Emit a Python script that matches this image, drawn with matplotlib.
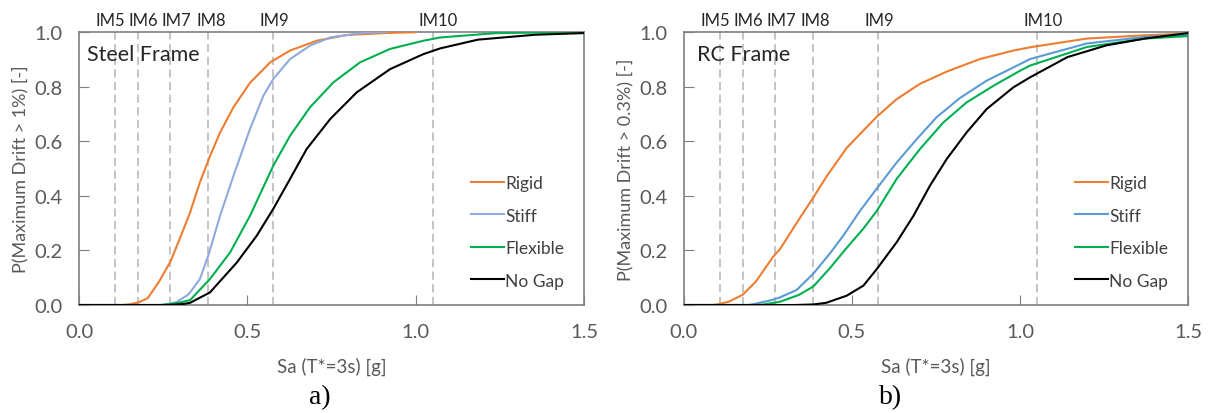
import matplotlib.pyplot as plt

# IM levels (Sa [g]) and where their names sit above the frame
im_names = ['IM5', 'IM6', 'IM7', 'IM8', 'IM9', 'IM10']
im_values = [0.108, 0.176, 0.271, 0.384, 0.576, 1.052]
im_label_pos = [0.093, 0.19, 0.29, 0.392, 0.58, 1.068]

# a) Steel frame, P(Max drift > 1%)
steel_rigid_x = [0.0, 0.13, 0.147, 0.176, 0.204, 0.238, 0.272, 0.30, 0.33, 0.359, 0.389, 0.419,
                 0.459, 0.508, 0.568, 0.627, 0.706, 0.795, 0.924, 0.998]
steel_rigid_y = [0.0, 0.0, 0.002, 0.009, 0.025, 0.086, 0.16, 0.245, 0.339, 0.449, 0.545, 0.632,
                 0.725, 0.814, 0.889, 0.932, 0.968, 0.989, 0.997, 0.999]
steel_stiff_x = [0.0, 0.244, 0.289, 0.323, 0.33, 0.359, 0.384, 0.419, 0.459, 0.508, 0.548, 0.577,
                 0.627, 0.686, 0.746, 0.845, 0.913]
steel_stiff_y = [0.0, 0.0, 0.01, 0.037, 0.046, 0.095, 0.181, 0.327, 0.474, 0.645, 0.767, 0.828,
                 0.901, 0.95, 0.98, 0.997, 1.0]
steel_flex_x = [0.0, 0.244, 0.289, 0.33, 0.389, 0.449, 0.508, 0.577, 0.627, 0.686, 0.756, 0.835,
                0.924, 1.023, 1.073, 1.24, 1.5]
steel_flex_y = [0.0, 0.0, 0.006, 0.018, 0.095, 0.193, 0.327, 0.51, 0.62, 0.724, 0.816, 0.889,
                0.938, 0.968, 0.98, 0.996, 1.0]
steel_nogap_x = [0.0, 0.266, 0.312, 0.33, 0.389, 0.469, 0.528, 0.577, 0.627, 0.676, 0.746, 0.825,
                 0.924, 1.023, 1.073, 1.185, 1.355, 1.5]
steel_nogap_y = [0.0, 0.0, 0.004, 0.008, 0.046, 0.156, 0.254, 0.352, 0.462, 0.571, 0.681, 0.779,
                 0.864, 0.919, 0.94, 0.972, 0.99, 0.996]

# b) RC frame, P(Max drift > 0.3%)
rc_rigid_x = [0.0, 0.085, 0.098, 0.133, 0.174, 0.214, 0.266, 0.286, 0.335, 0.385, 0.425, 0.484,
              0.544, 0.574, 0.633, 0.702, 0.782, 0.881, 0.98, 1.03, 1.199, 1.372, 1.5]
rc_rigid_y = [0.0, 0.0, 0.002, 0.012, 0.037, 0.086, 0.178, 0.205, 0.30, 0.394, 0.472, 0.575,
              0.652, 0.69, 0.754, 0.81, 0.855, 0.901, 0.932, 0.944, 0.976, 0.988, 0.994]
rc_stiff_x = [0.0, 0.19, 0.203, 0.261, 0.286, 0.335, 0.385, 0.435, 0.474, 0.524, 0.574, 0.633,
              0.693, 0.752, 0.821, 0.901, 0.98, 1.03, 1.199, 1.372, 1.5]
rc_stiff_y = [0.0, 0.0, 0.002, 0.018, 0.028, 0.055, 0.115, 0.19, 0.254, 0.345, 0.427, 0.522,
              0.608, 0.688, 0.758, 0.822, 0.87, 0.901, 0.958, 0.982, 0.991]
rc_flex_x = [0.0, 0.22, 0.237, 0.286, 0.342, 0.385, 0.435, 0.484, 0.534, 0.574, 0.633, 0.702,
             0.772, 0.841, 0.921, 1.0, 1.03, 1.199, 1.372, 1.5]
rc_flex_y = [0.0, 0.0, 0.002, 0.012, 0.037, 0.068, 0.136, 0.209, 0.28, 0.345, 0.462, 0.571,
             0.669, 0.742, 0.803, 0.858, 0.877, 0.945, 0.976, 0.985]
rc_nogap_x = [0.0, 0.33, 0.385, 0.423, 0.484, 0.534, 0.574, 0.633, 0.683, 0.732, 0.782, 0.841,
              0.901, 0.98, 1.03, 1.141, 1.257, 1.372, 1.5]
rc_nogap_y = [0.0, 0.0, 0.002, 0.008, 0.034, 0.071, 0.132, 0.23, 0.327, 0.437, 0.535, 0.632,
              0.718, 0.797, 0.834, 0.908, 0.951, 0.976, 0.996]

series_labels = ['Rigid', 'Stiff', 'Flexible', 'No Gap']

TXT = '#595959'
plt.rcParams['font.family'] = ['Lato', 'DejaVu Sans']


def panel(ax, curves, colors, title, title_x, ylabel, tag, tag_x):
    for (x, y), c, lab in zip(curves, colors, series_labels):
        ax.plot(x, y, color=c, lw=1.5, label=lab, zorder=3)
    for v in im_values:
        ax.axvline(v, color='#BFBFBF', lw=1.3, ls=(0, (4.5, 2.5)), zorder=1)
    for name, p in zip(im_names, im_label_pos):
        ax.text(p, 1.045, name, transform=ax.get_xaxis_transform(), ha='center', va='center',
                fontsize=12, color='#262626')
    ax.set_xlim(0, 1.5)
    ax.set_ylim(0, 1.0)
    ax.set_xticks([0, 0.5, 1.0, 1.5])
    ax.set_xticklabels(['0.0', '0.5', '1.0', '1.5'])
    ax.set_yticks([0, 0.2, 0.4, 0.6, 0.8, 1.0])
    ax.set_yticklabels(['0.0', '0.2', '0.4', '0.6', '0.8', '1.0'])
    ax.tick_params(axis='x', direction='in', length=7, color='#7F7F7F', labelcolor=TXT,
                   labelsize=14.5, pad=13)
    ax.tick_params(axis='y', direction='in', length=7, color='#7F7F7F', labelcolor=TXT,
                   labelsize=14.5, pad=12)
    for s in ax.spines.values():
        s.set_color('#7F7F7F')
        s.set_linewidth(1.2)
    ax.set_xlabel('Sa (T*=3s) [g]', fontsize=13.5, color=TXT, labelpad=12)
    ax.set_ylabel(ylabel, fontsize=13, color=TXT, labelpad=4)
    ax.text(title_x, 0.919, title, transform=ax.transAxes, ha='left', va='center',
            fontsize=15.5, color='#262626')
    ax.legend(loc='lower right', bbox_to_anchor=(0.975, 0.035), frameon=False, fontsize=12.5,
              labelspacing=0.95, handlelength=1.9, handletextpad=0.1, labelcolor='#404040',
              borderaxespad=0.0)
    ax.text(tag_x, -0.337, tag, transform=ax.transAxes, ha='center', va='center', fontsize=20,
            family=['Liberation Serif'], color='black')


fig = plt.figure(figsize=(12.11, 4.14), dpi=100)
ax1 = fig.add_axes([79 / 1211, 1 - 306 / 414, 505 / 1211, 273 / 414])
ax2 = fig.add_axes([684 / 1211, 1 - 306 / 414, 504 / 1211, 273 / 414])

panel(ax1,
      [(steel_rigid_x, steel_rigid_y), (steel_stiff_x, steel_stiff_y),
       (steel_flex_x, steel_flex_y), (steel_nogap_x, steel_nogap_y)],
      ['#ED7D31', '#8FAADC', '#00B050', 'black'],
      'Steel Frame', 0.016, 'P(Maximum Drift > 1%) [-]', 'a)', 0.477)
panel(ax2,
      [(rc_rigid_x, rc_rigid_y), (rc_stiff_x, rc_stiff_y),
       (rc_flex_x, rc_flex_y), (rc_nogap_x, rc_nogap_y)],
      ['#ED7D31', '#5B9BD5', '#00B050', 'black'],
      'RC Frame', 0.026, 'P(Maximum Drift > 0.3%) [-]', 'b)', 0.41)

fig.savefig('out.png', dpi=100)
